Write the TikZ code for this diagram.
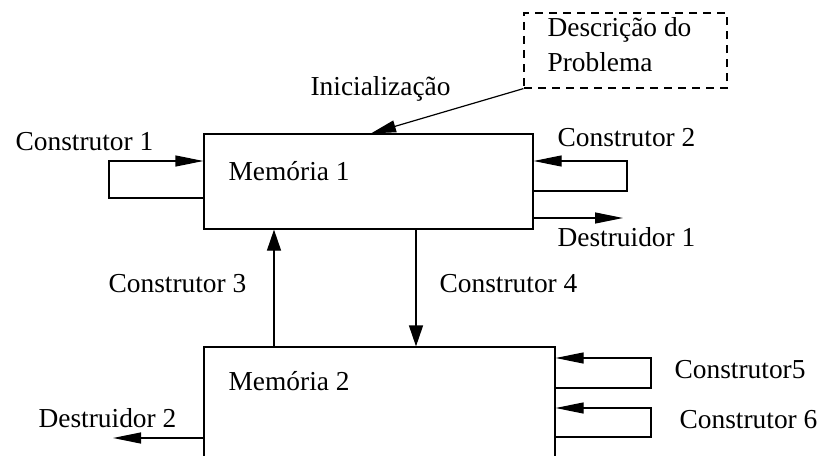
\documentclass[tikz,border=0pt]{standalone}
\usepackage{fontspec}
\setmainfont{Liberation Serif}
\usetikzlibrary{arrows.meta}
\begin{document}
\begin{tikzpicture}[x=0.5pt,y=-0.5pt,
  line width=0.6pt,
  memo/.style={draw, rectangle, inner sep=0pt},
  arr/.style={-{Triangle[length=14pt,width=5.5pt]}},
  varr/.style={-{Triangle[length=10.5pt,width=7pt]}},
  darr/.style={-{Triangle[length=12.5pt,width=6pt]}},
  lbl/.style={font=\fontsize{13.7}{16}\selectfont, inner sep=0pt, anchor=base west}]
\useasboundingbox (0,0) rectangle (824,455);
\clip (0,0) rectangle (824,455);

% memory blocks and the problem description
\node[memo, minimum width=164.5pt, minimum height=47.5pt] (m1) at (368.5,181.5) {};
\node[memo, minimum width=175.5pt, minimum height=66.5pt] (m2) at (379.5,413.5) {};
\node[memo, dashed, dash pattern=on 4pt off 3pt, minimum width=101.5pt, minimum height=37.5pt] (desc) at (625.5,50.5) {};

% texts
\node[lbl] (tm1) at (228,180) {Memória 1};
\node[lbl] (tm2) at (228,390) {Memória 2};
\node[lbl] (td1) at (547,36) {Descrição do};
\node[lbl] (td2) at (547,71) {Problema};
\node[lbl] (tini) at (310,95) {Inicialização};
\node[lbl] (tc1) at (15,150) {Construtor 1};
\node[lbl] (tc2) at (557,146) {Construtor 2};
\node[lbl] (tde1) at (557,246) {Destruidor 1};
\node[lbl] (tc3) at (108,292) {Construtor 3};
\node[lbl] (tc4) at (439,292) {Construtor 4};
\node[lbl] (tde2) at (38,427) {Destruidor 2};
\node[lbl] (tc5) at (674,378) {Construtor5};
\node[lbl] (tc6) at (679,428) {Construtor 6};

% helper points for the connectors
\coordinate (ini) at (371,0);
\coordinate (x3) at (274,0);
\coordinate (x4) at (416,0);
\coordinate (l1a) at (109,198);
\coordinate (l1b) at (109,161);
\coordinate (l2a) at (627,191);
\coordinate (l2b) at (627,161);
\coordinate (d1) at (623,218);
\coordinate (l5a) at (651,388);
\coordinate (l5b) at (651,358);
\coordinate (l6a) at (651,437);
\coordinate (l6b) at (651,408);
\coordinate (d2) at (113,438);

% connectors
\draw[darr] (desc.south west) -- (m1.north -| ini);
\draw[varr] (m2.north -| x3) -- (m1.south -| x3);
\draw[varr] (m1.south -| x4) -- (m2.north -| x4);
\draw[arr] (m1.west |- l1a) -- (l1a) -- (l1b) -- (m1.west |- l1b);
\draw[arr] (m1.east |- l2a) -- (l2a) -- (l2b) -- (m1.east |- l2b);
\draw[arr] (m1.east |- d1) -- (d1);
\draw[arr] (m2.east |- l5a) -- (l5a) -- (l5b) -- (m2.east |- l5b);
\draw[arr] (m2.east |- l6a) -- (l6a) -- (l6b) -- (m2.east |- l6b);
\draw[arr] (m2.west |- d2) -- (d2);
\end{tikzpicture}
\end{document}
